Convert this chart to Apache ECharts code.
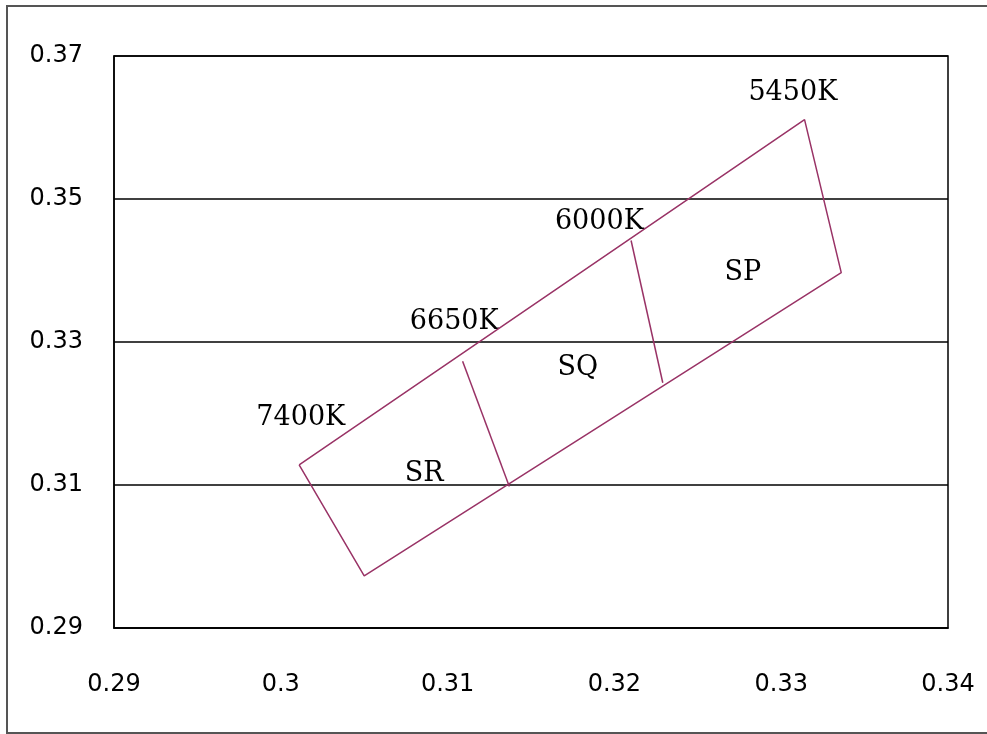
<!DOCTYPE html>
<html><head><meta charset="utf-8">
<script src="https://cdn.jsdelivr.net/npm/echarts@6/dist/echarts.min.js"></script>
<style>html,body{margin:0;padding:0;background:#fff}#c{width:987px;height:734px}</style>
</head><body><div id="c"></div>
<script>
const outerBox = [[0.3011,0.3128],[0.3314,0.3611],[0.3336,0.3397],[0.3050,0.2973],[0.3011,0.3128]];
const divider1 = [[0.3109,0.3273],[0.3137,0.3098]];
const divider2 = [[0.3210,0.3442],[0.3229,0.3243]];
const cctLabels = [
  {name:'5450K', value:[0.3307,0.3648]},
  {name:'6000K', value:[0.3191,0.3468]},
  {name:'6650K', value:[0.3104,0.3328]},
  {name:'7400K', value:[0.3012,0.3194]}
];
const binLabels = [
  {name:'SP', value:[0.3277,0.3397]},
  {name:'SQ', value:[0.3178,0.3264]},
  {name:'SR', value:[0.3086,0.3115]}
];
const xTicks = [0.29,0.30,0.31,0.32,0.33,0.34];
const yTicks = [0.29,0.31,0.33,0.35,0.37];

const chart = echarts.init(document.getElementById('c'));
const lineColor = '#993366';
const fmt = v => String(+(+v).toFixed(2));
const lineSeries = d => ({type:'line', data:d, symbol:'none', silent:true,
  lineStyle:{color:lineColor, width:1.5}, animation:false});
const textSeries = d => ({type:'scatter', data:d, symbolSize:0, animation:false, silent:true,
  itemStyle:{opacity:0},
  label:{show:true, position:'inside', formatter:'{b}', color:'#000', opacity:1,
    fontFamily:'DejaVu Serif', fontSize:27}});
chart.setOption({
  animation:false,
  graphic:[{type:'rect', shape:{x:7,y:6,width:990,height:727},
    style:{fill:null, stroke:'#555', lineWidth:2}}],
  grid:{left:114, right:39, top:56, bottom:106, show:true, borderColor:'#000', borderWidth:1.5},
  xAxis:{type:'value', min:xTicks[0], max:xTicks[xTicks.length-1], interval:0.01,
    axisLine:{show:true, lineStyle:{color:'#000', width:1.5}}, axisTick:{show:false},
    splitLine:{show:false},
    axisLabel:{formatter:fmt, color:'#000', fontFamily:'DejaVu Sans', fontSize:24, margin:45}},
  yAxis:{type:'value', min:yTicks[0], max:yTicks[yTicks.length-1], interval:0.02,
    axisLine:{show:true, lineStyle:{color:'#000', width:1.5}}, axisTick:{show:false},
    splitLine:{show:true, lineStyle:{color:'#000', width:1.5}},
    axisLabel:{formatter:fmt, color:'#000', fontFamily:'DejaVu Sans', fontSize:24, margin:31}},
  series:[lineSeries(outerBox), lineSeries(divider1), lineSeries(divider2),
    textSeries(cctLabels), textSeries(binLabels)]
});
</script></body></html>
